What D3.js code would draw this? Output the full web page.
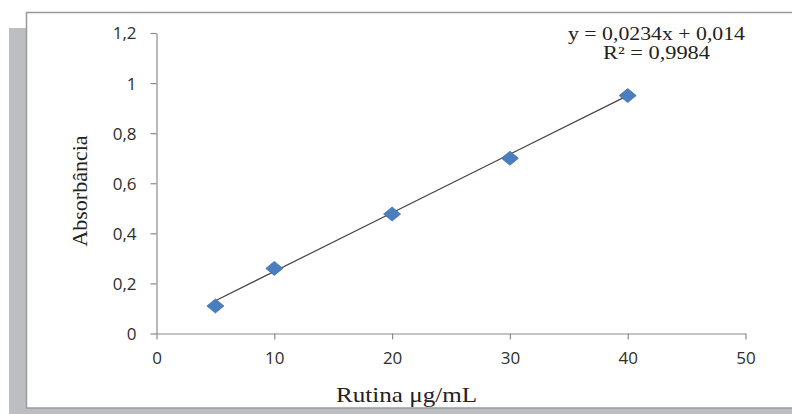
<!DOCTYPE html>
<html><head><meta charset="utf-8">
<script src="https://cdn.jsdelivr.net/npm/d3@7"></script>
<style>html,body{margin:0;padding:0;background:#fff;overflow:hidden}</style>
</head><body>
<script>
const concentrations = [5, 10, 20, 30, 40];
const absorbances = [0.11, 0.26, 0.477, 0.70, 0.95];
const slope = 0.0234, intercept = 0.014;
const xTicks = [0, 10, 20, 30, 40, 50];
const yTicks = [0, 0.2, 0.4, 0.6, 0.8, 1.0, 1.2];
const xTitle = "Rutina μg/mL";
const yTitle = "Absorbância";
const eqLine1 = "y = 0,0234x + 0,014";
const eqLine2 = "R² = 0,9984";

const W = 792, H = 414;
const svg = d3.select("body").append("svg").attr("width", W).attr("height", H);

// frame
svg.append("rect").attr("x", 9).attr("y", 28).attr("width", 20).attr("height", H - 28).attr("fill", "#bdbec2");
svg.append("rect").attr("x", 9).attr("y", 408).attr("width", W - 9).attr("height", 6).attr("fill", "#bdbec2");
svg.append("rect").attr("x", 26.5).attr("y", 12.5).attr("width", W).attr("height", 395.5)
  .attr("fill", "#fff").attr("stroke", "#9a9a9a").attr("stroke-width", 1.5);

const x = d3.scaleLinear().domain([0, 50]).range([156.5, 745.5]);
const y = d3.scaleLinear().domain([0, 1.2]).range([333.5, 33]);

const fmt = d => d3.format("")(+d.toFixed(1)).replace(".", ",");

const xAxis = svg.append("g").attr("transform", `translate(0,${y(0)})`)
  .call(d3.axisBottom(x).tickValues(xTicks).tickSize(6).tickSizeOuter(0).tickPadding(8).tickFormat(fmt));
const yAxis = svg.append("g").attr("transform", `translate(${x(0)},0)`)
  .call(d3.axisLeft(y).tickValues(yTicks).tickSize(6).tickSizeOuter(0).tickPadding(14).tickFormat(fmt));
[xAxis, yAxis].forEach(a => {
  a.select(".domain").attr("stroke", "#8a8a8a").attr("stroke-width", 1.2);
  a.selectAll(".tick line").attr("stroke", "#8a8a8a").attr("stroke-width", 1.2);
  a.selectAll(".tick text").attr("fill", "#2e2e2e").style("font-family", "'Open Sans', sans-serif").style("font-size", "17px");
});
xAxis.selectAll(".tick text").attr("dy", "0.95em");
yAxis.selectAll(".tick text").attr("dy", "0.35em");

// trendline
svg.append("line")
  .attr("x1", x(concentrations[0])).attr("y1", y(slope * concentrations[0] + intercept))
  .attr("x2", x(concentrations[concentrations.length - 1])).attr("y2", y(slope * concentrations[concentrations.length - 1] + intercept))
  .attr("stroke", "#4a4040").attr("stroke-width", 1.2);

// points
svg.append("g").selectAll("path").data(concentrations).join("path")
  .attr("transform", (d, i) => `translate(${x(d)},${y(absorbances[i])})`)
  .attr("d", "M0,-7L8.5,0L0,7L-8.5,0Z")
  .attr("fill", "#4a7ebf").attr("stroke", "#3f70ad").attr("stroke-width", 0.8);

// titles
svg.append("text").attr("x", 406.5).attr("y", 402).attr("text-anchor", "middle")
  .attr("textLength", 141).attr("lengthAdjust", "spacingAndGlyphs")
  .style("font-family", "'Liberation Serif', serif").style("font-size", "22px").attr("fill", "#222").text(xTitle);
svg.append("text").attr("transform", "translate(87,191) rotate(-90)").attr("text-anchor", "middle")
  .style("font-family", "'Liberation Serif', serif").style("font-size", "22px").attr("fill", "#222").text(yTitle);

svg.append("text").attr("x", 656.5).attr("y", 40).attr("text-anchor", "middle")
  .attr("textLength", 177).attr("lengthAdjust", "spacingAndGlyphs")
  .style("font-family", "'Liberation Serif', serif").style("font-size", "18px").attr("fill", "#222").text(eqLine1);
svg.append("text").attr("x", 656.5).attr("y", 59).attr("text-anchor", "middle")
  .attr("textLength", 107).attr("lengthAdjust", "spacingAndGlyphs")
  .style("font-family", "'Liberation Serif', serif").style("font-size", "18px").attr("fill", "#222").text(eqLine2);
</script>
</body></html>
